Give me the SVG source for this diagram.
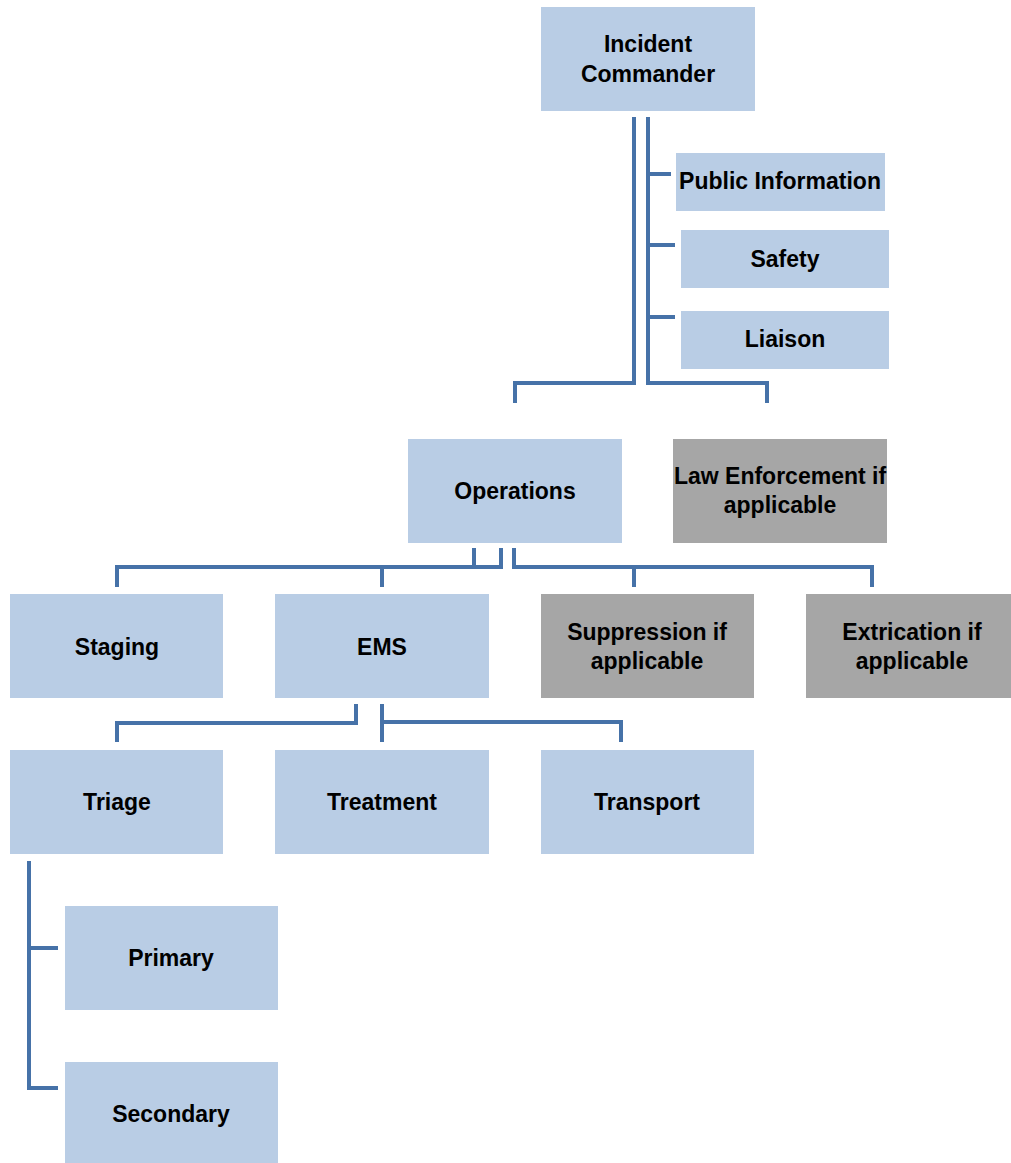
<svg xmlns="http://www.w3.org/2000/svg" width="1011" height="1163" viewBox="0 0 1011 1163">
<style>
.b{fill:#B9CDE5}
.g{fill:#A6A6A6}
.t{font-family:"Liberation Sans",Arial,sans-serif;font-weight:bold;font-size:23px;fill:#000;text-anchor:middle}
.c{fill:none;stroke:#4672A8;stroke-width:4;stroke-linejoin:miter}
</style>
<rect width="1011" height="1163" fill="#fff"/>
<g id="connectors">
<path class="c" d="M634 117V383H515V403"/>
<path class="c" d="M648 117V383H767V403"/>
<path class="c" d="M648 174H671M648 245H675M648 317H675"/>
<path class="c" d="M474 548V567H117V587M501 548V567H474M382 567V587"/>
<path class="c" d="M514 548V567H872V587M634 567V587"/>
<path class="c" d="M356 704V723H117V742"/>
<path class="c" d="M382 704V742M382 722H621V742"/>
<path class="c" d="M29 861V1088H58M29 948H58"/>
</g>
<g id="incident-commander"><rect class="b" x="541" y="7" width="214" height="104"/><text class="t" x="648" y="52">Incident</text><text class="t" x="648" y="82">Commander</text></g>
<g id="public-information"><rect class="b" x="676" y="153" width="209" height="58"/><text class="t" x="780" y="189">Public Information</text></g>
<g id="safety"><rect class="b" x="681" y="230" width="208" height="58"/><text class="t" x="785" y="267">Safety</text></g>
<g id="liaison"><rect class="b" x="681" y="311" width="208" height="58"/><text class="t" x="785" y="347">Liaison</text></g>
<g id="operations"><rect class="b" x="408" y="439" width="214" height="104"/><text class="t" x="515" y="499">Operations</text></g>
<g id="law-enforcement"><rect class="g" x="673" y="439" width="214" height="104"/><text class="t" x="780" y="484">Law Enforcement if</text><text class="t" x="780" y="513">applicable</text></g>
<g id="staging"><rect class="b" x="10" y="594" width="213" height="104"/><text class="t" x="117" y="655">Staging</text></g>
<g id="ems"><rect class="b" x="275" y="594" width="214" height="104"/><text class="t" x="382" y="655">EMS</text></g>
<g id="suppression"><rect class="g" x="541" y="594" width="213" height="104"/><text class="t" x="647" y="640">Suppression if</text><text class="t" x="647" y="669">applicable</text></g>
<g id="extrication"><rect class="g" x="806" y="594" width="214" height="104"/><text class="t" x="912" y="640">Extrication if</text><text class="t" x="912" y="669">applicable</text></g>
<g id="triage"><rect class="b" x="10" y="750" width="213" height="104"/><text class="t" x="117" y="810">Triage</text></g>
<g id="treatment"><rect class="b" x="275" y="750" width="214" height="104"/><text class="t" x="382" y="810">Treatment</text></g>
<g id="transport"><rect class="b" x="541" y="750" width="213" height="104"/><text class="t" x="647" y="810">Transport</text></g>
<g id="primary"><rect class="b" x="65" y="906" width="213" height="104"/><text class="t" x="171" y="966">Primary</text></g>
<g id="secondary"><rect class="b" x="65" y="1062" width="213" height="104"/><text class="t" x="171" y="1122">Secondary</text></g>
</svg>
